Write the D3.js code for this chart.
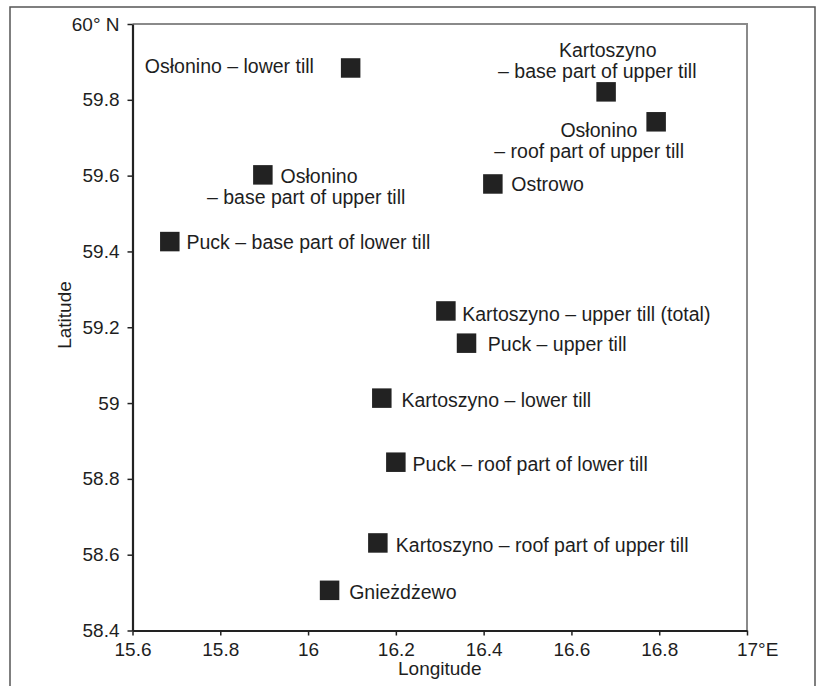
<!DOCTYPE html>
<html>
<head>
<meta charset="utf-8">
<script src="https://cdn.jsdelivr.net/npm/d3@7"></script>
<style>
  html, body { margin: 0; padding: 0; background: #fff; }
  svg { display: block; }
  text { font-family: "Liberation Sans", Arial, Helvetica, sans-serif; fill: #1e1e1e; }
</style>
</head>
<body>
<svg id="chart" width="816" height="686"></svg>
<script>
// ---- data ----
const sites = [
  "Osłonino – lower till",
  "Kartoszyno – base part of upper till",
  "Osłonino – roof part of upper till",
  "Ostrowo",
  "Osłonino – base part of upper till",
  "Puck – base part of lower till",
  "Kartoszyno – upper till (total)",
  "Puck – upper till",
  "Kartoszyno – lower till",
  "Puck – roof part of lower till",
  "Kartoszyno – roof part of upper till",
  "Gnieżdżewo"
];
const longitude = [16.097, 16.679, 16.793, 16.421, 15.897, 15.685, 16.314, 16.361, 16.168, 16.200, 16.159, 16.049];
const latitude  = [59.884, 59.821, 59.742, 59.578, 59.602, 59.426, 59.243, 59.158, 59.013, 58.844, 58.631, 58.506];
const xTicks = [15.6, 15.8, 16, 16.2, 16.4, 16.6, 16.8, 17];
const yTicks = [58.4, 58.6, 58.8, 59, 59.2, 59.4, 59.6, 59.8, 60];
const xTickLabels = ["15.6", "15.8", "16", "16.2", "16.4", "16.6", "16.8", "17°E"];
const yTickLabels = ["58.4", "58.6", "58.8", "59", "59.2", "59.4", "59.6", "59.8", "60° N"];
const xTitle = "Longitude";
const yTitle = "Latitude";

// ---- label layout (text lines, offsets from marker centre, anchor) ----
const labelLayout = [
  [{t: "Osłonino – lower till", dx: -36.7, dy: 5.3, a: "end"}],
  [{t: "Kartoszyno", dx: 1.7, dy: -35.3, a: "middle"}, {t: "– base part of upper till", dx: -8.8, dy: -13.7, a: "middle"}],
  [{t: "Osłonino", dx: -57.2, dy: 15, a: "middle"}, {t: "– roof part of upper till", dx: -67, dy: 36.6, a: "middle"}],
  [{t: "Ostrowo", dx: 18.4, dy: 7, a: "start"}],
  [{t: "Osłonino", dx: 17.7, dy: 7.7, a: "start"}, {t: "– base part of upper till", dx: 43.3, dy: 29, a: "middle"}],
  [{t: "Puck – base part of lower till", dx: 16.7, dy: 7.8, a: "start"}],
  [{t: "Kartoszyno – upper till (total)", dx: 16.3, dy: 9.7, a: "start"}],
  [{t: "Puck – upper till", dx: 21.3, dy: 7.7, a: "start"}],
  [{t: "Kartoszyno – lower till", dx: 19.7, dy: 9.3, a: "start"}],
  [{t: "Puck – roof part of lower till", dx: 16.7, dy: 8.7, a: "start"}],
  [{t: "Kartoszyno – roof part of upper till", dx: 18, dy: 8.7, a: "start"}],
  [{t: "Gnieżdżewo", dx: 19.6, dy: 8.7, a: "start"}]
];

// ---- layout ----
const svg = d3.select("#chart");
const plot = {left: 132.5, right: 747, top: 24, bottom: 630.5};

// outer frame
svg.append("path")
  .attr("d", "M10,690 L10,7 L815,7 L815,690")
  .attr("fill", "none").attr("stroke", "#555").attr("stroke-width", 1.5);

const x = d3.scaleLinear().domain([15.6, 17]).range([plot.left, plot.right]);
const y = d3.scaleLinear().domain([58.4, 60]).range([plot.bottom, plot.top]);

// top & right frame (gray)
svg.append("path")
  .attr("d", `M${plot.left},${plot.top} L${plot.right},${plot.top} L${plot.right},${plot.bottom}`)
  .attr("fill", "none").attr("stroke", "#8a8a8a").attr("stroke-width", 2);

const fontSize = 19;

const xAxis = d3.axisBottom(x).tickValues(xTicks)
  .tickFormat((d, i) => xTickLabels[i]).tickSize(5).tickPadding(7).tickSizeOuter(0);
const gx = svg.append("g").attr("transform", `translate(0,${plot.bottom})`).call(xAxis);

const yAxis = d3.axisLeft(y).tickValues(yTicks)
  .tickFormat((d, i) => yTickLabels[i]).tickSize(5).tickPadding(8).tickSizeOuter(0);
const gy = svg.append("g").attr("transform", `translate(${plot.left},0)`).call(yAxis);

[gx, gy].forEach(g => {
  g.select(".domain").attr("stroke", "#222").attr("stroke-width", 2.2);
  g.selectAll(".tick line").attr("stroke", "#222").attr("stroke-width", 1.5);
  g.selectAll(".tick text").attr("font-size", fontSize)
    .attr("font-family", '"Liberation Sans", Arial, sans-serif').attr("fill", "#1e1e1e");
});

// keep "17" of "17°E" centred on its tick
gx.selectAll(".tick text").filter((d, i) => i === xTicks.length - 1)
  .attr("text-anchor", "start")
  .attr("dx", function() {
    const tmp = svg.append("text").attr("font-size", fontSize).text("17");
    const w = tmp.node().getComputedTextLength(); tmp.remove();
    return -w / 2;
  });

// axis titles
svg.append("text").attr("x", (plot.left + plot.right) / 2).attr("y", 675)
  .attr("text-anchor", "middle").attr("font-size", 19).text(xTitle);
svg.append("text")
  .attr("transform", `translate(71,${315}) rotate(-90)`)
  .attr("text-anchor", "middle").attr("font-size", 19).text(yTitle);

// markers
const size = 19.5;
const pts = sites.map((s, i) => ({name: s, lon: longitude[i], lat: latitude[i], lab: labelLayout[i]}));
svg.append("g").selectAll("rect").data(pts).join("rect")
  .attr("x", d => x(d.lon) - size / 2)
  .attr("y", d => y(d.lat) - size / 2)
  .attr("width", size).attr("height", size)
  .attr("fill", "#222");

// labels
const lg = svg.append("g");
pts.forEach(d => {
  d.lab.forEach(l => {
    lg.append("text")
      .attr("x", x(d.lon) + l.dx)
      .attr("y", y(d.lat) + l.dy)
      .attr("text-anchor", l.a)
      .attr("font-size", 19.5)
      .text(l.t);
  });
});
</script>
</body>
</html>
